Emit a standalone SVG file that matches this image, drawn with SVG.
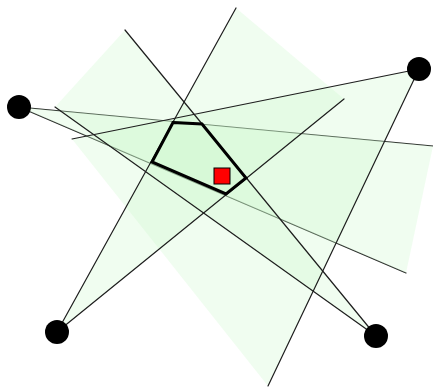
<svg xmlns="http://www.w3.org/2000/svg" width="433" height="388" viewBox="0 0 433 388">
<style>
.reg{fill:#c8f8c8;fill-opacity:0.28;stroke:none}
.ln{stroke:#1e1e1e;stroke-width:1.2;fill:none;stroke-linecap:round}
.dot{fill:#000}
</style>
<rect width="433" height="388" fill="#fff"/>
<g id="connectors">
<line class="ln" x1="19" y1="107" x2="433" y2="146"/>
<line class="ln" x1="19" y1="107" x2="406" y2="273"/>
</g>
<g id="regions">
<polygon class="reg" points="19,107 433,146 406,273"/>
<polygon class="reg" points="419,69 72,139 268,386"/>
<polygon class="reg" points="57,332 236,8 344,99"/>
<polygon class="reg" points="376,336 125,30 55,107"/>
</g>
<g id="connectors2">
<line class="ln" x1="419" y1="69" x2="72" y2="139"/>
<line class="ln" x1="419" y1="69" x2="268" y2="386"/>
<line class="ln" x1="57" y1="332" x2="236" y2="8"/>
<line class="ln" x1="57" y1="332" x2="344" y2="99"/>
<line class="ln" x1="376" y1="336" x2="125" y2="30"/>
<line class="ln" x1="376" y1="336" x2="55" y2="107"/>
</g>
<g id="pentagon">
<polygon points="173,122.5 202,124 246,178 226,194 152,162" fill="none" stroke="#000" stroke-width="3" stroke-linejoin="miter"/>
</g>
<g id="square">
<rect x="214" y="168" width="16" height="16" fill="#f00" stroke="#000" stroke-width="1"/>
</g>
<g id="nodeA"><circle class="dot" cx="19" cy="107" r="12"/></g>
<g id="nodeB"><circle class="dot" cx="419" cy="69" r="12"/></g>
<g id="nodeC"><circle class="dot" cx="57" cy="332" r="12"/></g>
<g id="nodeD"><circle class="dot" cx="376" cy="336" r="12"/></g>
</svg>
